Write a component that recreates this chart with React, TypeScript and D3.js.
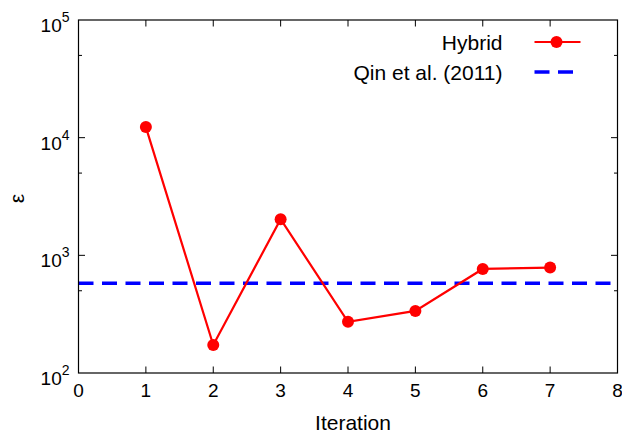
import React from "react";
import * as d3 from "d3";

// Data
const iterations = [1, 2, 3, 4, 5, 6, 7];
const hybridError = [12300, 173, 2030, 272, 337, 766, 787];
const qinError = 579;
const xTicks = [0, 1, 2, 3, 4, 5, 6, 7, 8];
const yMajorExps = [2, 3, 4, 5];
const yMinorTicks = [500, 5000, 50000];
const legendLabels = ["Hybrid", "Qin et al. (2011)"];

const W = 622;
const H = 435;
const margin = { top: 20, right: 4.5, bottom: 62, left: 78.5 };
const FONT = "'Liberation Sans', Arial, Helvetica, sans-serif";

export default function App() {
    const innerW = W - margin.left - margin.right;
    const innerH = H - margin.top - margin.bottom;

    const x = d3.scaleLinear().domain([0, 8]).range([0, innerW]);
    const y = d3.scaleLog().domain([100, 100000]).range([innerH, 0]);

    const points = iterations.map((it, i) => ({ x: it, y: hybridError[i] }));
    const lineGen = d3
        .line<{ x: number; y: number }>()
        .x((d) => x(d.x))
        .y((d) => y(d.y));

    const red = "#ff0000";
    const blue = "#0000ff";
    const majorLen = 6.5;
    const minorLen = 3.5;

    return (
        <svg
            width={W}
            height={H}
            style={{ position: "absolute", left: 0, top: 0, background: "#fff" }}
            fontFamily={FONT}
        >
            <g transform={`translate(${margin.left},${margin.top})`}>
                {/* Qin et al. reference line */}
                <line
                    x1={0}
                    x2={innerW}
                    y1={y(qinError)}
                    y2={y(qinError)}
                    stroke={blue}
                    strokeWidth={3.5}
                    strokeDasharray="15 8.5"
                />

                {/* Hybrid series */}
                <path d={lineGen(points) ?? ""} fill="none" stroke={red} strokeWidth={2.2} />
                {points.map((p, i) => (
                    <circle key={i} cx={x(p.x)} cy={y(p.y)} r={6} fill={red} />
                ))}

                {/* X ticks (inward, mirrored) */}
                {xTicks.map((t) => (
                    <g key={`x${t}`}>
                        {t > 0 && t < 8 && (
                            <>
                                <line x1={x(t)} x2={x(t)} y1={innerH} y2={innerH - majorLen} stroke="#000" strokeWidth={1} />
                                <line x1={x(t)} x2={x(t)} y1={0} y2={majorLen} stroke="#000" strokeWidth={1} />
                            </>
                        )}
                        <text x={x(t)} y={innerH + 23.5} textAnchor="middle" fontSize={19} fill="#000">
                            {t}
                        </text>
                    </g>
                ))}

                {/* Y major ticks */}
                {yMajorExps.map((e) => {
                    const v = Math.pow(10, e);
                    const yy = y(v);
                    return (
                        <g key={`y${e}`}>
                            {e > 2 && e < 5 && (
                                <>
                                    <line x1={0} x2={majorLen} y1={yy} y2={yy} stroke="#000" strokeWidth={1} />
                                    <line x1={innerW} x2={innerW - majorLen} y1={yy} y2={yy} stroke="#000" strokeWidth={1} />
                                </>
                            )}
                            <text x={-9} y={yy + 12} textAnchor="end" fontSize={19} fill="#000">
                                10
                                <tspan fontSize={14} dy={-10}>
                                    {e}
                                </tspan>
                            </text>
                        </g>
                    );
                })}

                {/* Y minor ticks */}
                {yMinorTicks.map((v) => (
                    <g key={`m${v}`}>
                        <line x1={0} x2={minorLen} y1={y(v)} y2={y(v)} stroke="#000" strokeWidth={1} />
                        <line x1={innerW} x2={innerW - minorLen} y1={y(v)} y2={y(v)} stroke="#000" strokeWidth={1} />
                    </g>
                ))}

                {/* Frame */}
                <rect x={0} y={0} width={innerW} height={innerH} fill="none" stroke="#000" strokeWidth={1.2} />

                {/* Axis titles */}
                <text x={innerW / 2 + 5} y={innerH + 57} textAnchor="middle" fontSize={21} fill="#000">
                    Iteration
                </text>
                <text
                    transform={`translate(${-55},${innerH / 2 + 2}) rotate(-90)`}
                    textAnchor="middle"
                    fontSize={21}
                    fill="#000"
                >
                    ε
                </text>

                {/* Legend */}
                <g>
                    <text x={424} y={29.5} textAnchor="end" fontSize={21} fill="#000">
                        {legendLabels[0]}
                    </text>
                    <line x1={456} x2={502} y1={22} y2={22} stroke={red} strokeWidth={2.2} />
                    <circle cx={478} cy={22} r={6} fill={red} />
                    <text x={424} y={59.5} textAnchor="end" fontSize={21} fill="#000">
                        {legendLabels[1]}
                    </text>
                    <line x1={456} x2={496} y1={52} y2={52} stroke={blue} strokeWidth={3.5} strokeDasharray="15 8.5" />
                </g>
            </g>
        </svg>
    );
}
